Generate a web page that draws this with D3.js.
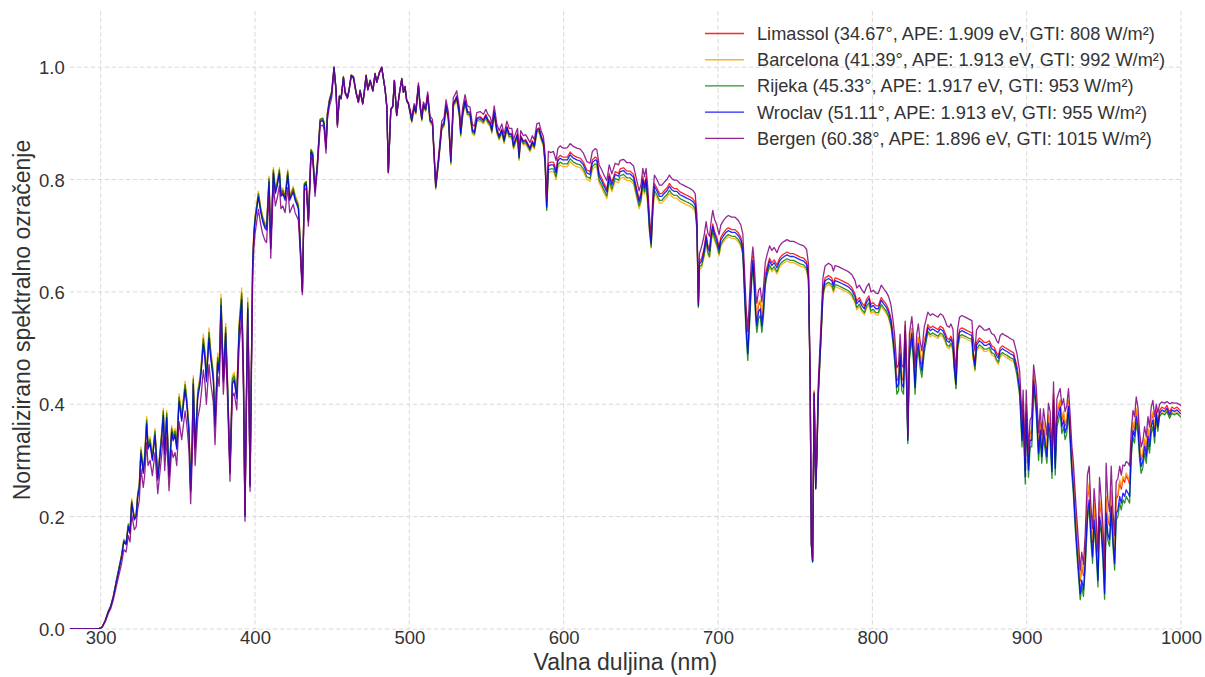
<!DOCTYPE html>
<html>
<head>
<meta charset="utf-8">
<script src="https://cdn.jsdelivr.net/npm/d3@7"></script>
<style>
  html, body { margin: 0; padding: 0; background: #fff; }
  svg { display: block; font-family: "Liberation Sans", Arial, Helvetica, sans-serif; }
</style>
</head>
<body>
<svg id="chart" width="1205" height="677"></svg>
<script>
// Wavelength grid (nm) shared by all five spectra
const wavelengthNm = [
  280, 290, 298, 300, 301,
  303, 305, 306.5, 308.2, 310.4, 311.4, 313.6, 315, 316.5, 317.9, 319, 320.1, 321.8, 323, 324, 325,
  326.1, 327.6, 328.5, 329.8, 330.7, 332, 333.5, 335.2, 337, 338.5, 339.6, 340.6, 341.5, 342.8, 344.3, 346, 347, 348.2, 349.3,
  350.8, 352.5, 354.7, 355.8, 357.2, 358.3, 359.3, 360, 361.2, 362.9, 364.4, 365.5, 366.5, 367.6, 368.5, 370.2, 371.2, 373, 374.1,
  375.8, 376.8, 378, 379.5, 381, 382.2, 383.8, 385.3, 386.5, 388.2, 389.7, 391.4, 392.5, 393.5, 394.4, 395.3, 396, 396.8, 397.6,
  398.5, 399.3, 400, 402.2, 403.7, 405, 406.5, 407.5, 409.1, 410.2, 411.9, 413.2, 414.5, 415.8, 416.8, 418, 419.5, 421.2, 422.5, 424.8, 426, 428.1, 429, 430.7,
  432, 433.2, 434.6, 436.3, 437.4, 438.9, 440.4, 442.2, 443.9, 444.8, 446, 446.9, 448.2, 449.7,
  451.2, 452.5, 453.4, 454.7, 455.8, 457.3, 458.4, 459.9, 461, 462.3, 463.8, 465.5, 467, 468.1, 469.8, 470.7, 472, 473.1, 474.6,
  476.4, 477.8, 478.9, 480.6, 482.1, 484.3, 485.4, 486.4, 488, 489.3, 490.3, 491.8, 493.4, 495.1, 496.2, 497.2, 498.3, 499.4,
  500.5, 501.6, 503.1, 504.2, 505.9, 507, 508.1, 509.1, 510.6, 511.9, 513.4, 515, 517.1, 518.8, 521, 522.5, 523.8, 525.3,
  526.9, 528.5, 529.6, 530.7, 532.4, 533.3, 534.6, 536.1, 537.6, 539.3, 540.9, 542.2, 543.7, 545.9, 548, 549.6, 550.9, 552.4,
  553.5, 555, 556.7, 558.2, 559.9, 561.4, 563.2, 564.7, 566.4, 567.5, 568.6, 570.1, 571.1, 572.2, 573.9, 575.4, 577.2, 578.2, 579.7,
  581, 582.6, 584.1, 585.4, 586.9, 588, 589,
  590.1, 591.6, 593.4, 595.1, 596.2, 597.7, 599.4, 600.9, 602.4, 604.2, 606.3, 608.5, 610.7, 612.8, 615, 617.1,
  618.6, 620.4, 621.5, 623, 624.7, 625.8, 628, 629.5, 631.2, 633.4, 635.5, 636.6, 638.8, 641, 643.1, 645.3,
  647.4, 648.9, 650.2, 651.3, 652.4, 653.4, 654.5, 655.6, 656.7, 657.8, 658.8, 660.4, 662.1, 663.6, 665.4, 666.9,
  668.5, 670, 671.5, 673.3, 675.4, 677.6, 679.7, 682, 683.6, 685.2, 686.3, 686.9, 687.3, 688,
  689.5, 691, 692.3, 693.4, 694.5, 695.6, 696.6, 697.7, 699.2, 700.7, 701.8, 703.5, 705.2, 706.7, 708.9, 711, 713.2, 714.8, 716.1,
  717.1, 718.2, 719.3, 720.4, 721.5, 722.6, 723.4, 724.5, 725.2, 726.3, 727.4, 728.4, 729.5, 730.6, 731.7,
  733.4, 734.9, 736.4, 738.2, 739.9, 741.4, 742.9, 744.7, 746.8, 749, 751.1, 753.3, 755.5, 757.4, 758.6,
  759.7, 760.5, 761.3, 762.3, 763.3, 764, 765, 766.7, 768, 769.4, 771.6, 773.7, 774.8, 775.9, 778,
  780.2, 782.4, 784.5, 786.7, 788.8, 789.9, 791.6, 793.1, 794.8, 796.3, 797.8, 799.1, 800.6, 802.3, 803.8, 805.8, 807.3, 809, 810.5, 812,
  813.3, 814.4, 815.9, 817, 818, 819.1, 820.2, 821.3, 822.3, 823, 824, 825.6, 826.6, 827.7, 828.8, 829.8, 830.9, 832.1, 833.6, 834.9,
  836, 837.5, 839, 840.8, 842.5, 844, 845.7, 847.2, 848.3, 849.8, 850.9, 852.2, 853, 854.2, 855.2, 856.5, 858, 860.2, 862.3, 864.5,
  865.2, 866.5, 867.5, 869.3, 870.8, 872.5, 874, 875.8, 877.3, 879.1, 880.6, 881.7, 882.8, 884.3, 885.8, 887.3, 889.3, 891.5,
  893.7, 895.5, 897, 897.7, 899.1, 899.7, 901.2, 902.2, 903.3, 904.5, 906.2, 907.7, 908.8, 909.8, 910.9, 912,
  913.1, 914.1, 915.2, 916.4, 917.4, 918.5, 919.6, 920.7, 921.7, 922.8, 923.9, 924.9, 926, 927.1, 928.2, 929.3,
  930.3, 931.4, 932.5, 933.6, 934.7, 935.7, 936.8, 937.9, 939.4, 940.5, 941.6, 942.7, 943.7, 944.8, 946.2, 947.2, 948.3,
  949.4, 950.5, 951.5, 952.6, 953.7, 954.8, 955.9, 957, 958, 959.1, 960.3, 961.3, 962.4, 963.5, 964.5, 965.6, 966.7,
  967.8, 968.9, 969.9, 971, 972.1, 973.2, 974.2, 975.3, 976.4, 977.5, 978.6, 979.6, 980.7, 981.8, 982.9,
  984, 985, 986.1, 987.6, 989.4, 990.9, 992.6, 994.1, 995.6, 997.4, 999.5, 1000
];

// Normalised spectral irradiance per site
const limassol = [
  0, 0, 0, .002, .004,
  .015, .031, .040, .058, .088, .101, .130, .157, .152, .184, .172, .226, .196, .202, .237, .253,
  .316, .280, .303, .369, .323, .333, .303, .348, .268, .313, .346, .384, .313, .380, .273, .354, .338, .348, .323,
  .409, .374, .430, .404, .354, .247, .333, .440, .323, .416, .440, .475, .512, .485, .444, .523, .490, .447, .364,
  .479, .460, .582, .444, .531, .434, .280, .440, .446, .414, .533, .592, .455, .202, .404, .576, .455, .256, .455,
  .653, .703, .728, .772, .745, .728, .716, .713, .799, .680, .814, .778, .793, .814, .773, .778, .766, .811, .766, .781, .766, .751, .703, .601,
  .791, .794, .727, .851, .845, .780, .828, .905, .907, .899, .857, .916, .940, .955,
  1, .960, .897, .948, .945, .982, .955, .946, .960, .985, .982, .955, .938, .958, .935, .953, .985, .960, .976,
  .958, .988, .973, .990, 1, .960, .930, .814, .925, .930, .976, .914, .950, .979, .955, .965, .940, .935,
  .921, .906, .931, .921, .968, .931, .909, .934, .926, .951, .907, .901, .788, .831, .896, .902, .934, .912,
  .834, .937, .942, .949, .920, .884, .920, .942, .922, .920, .889, .886, .910, .912, .907, .916, .907, .902,
  .890, .922, .890, .878, .890, .872, .895, .882, .882, .862, .871, .882, .842, .878, .869, .871, .862, .857, .869,
  .862, .890, .892, .878, .867, .832, .755,
  .829, .831, .831, .817, .838, .843, .840, .840, .840, .849, .843, .840, .838, .831, .817, .814,
  .835, .840, .838, .811, .802, .795, .783, .811, .795, .814, .811, .819, .821, .815, .815, .809,
  .783, .765, .777, .805, .790, .805, .771, .721, .690, .759, .793, .785, .775, .775, .781, .785,
  .793, .787, .784, .784, .778, .775, .772, .769, .766, .760, .724, .640, .580, .654,
  .660, .678, .703, .683, .677, .705, .721, .708, .697, .680, .697, .705, .711, .714, .711, .711, .705, .697, .681,
  .620, .550, .502, .562, .625, .664, .630, .572, .553, .577, .582, .553, .582, .630, .643,
  .660, .652, .657, .648, .660, .665, .668, .671, .668, .668, .665, .662, .660, .654, .632,
  .446, .152, .121, .423, .252, .303, .424, .524, .605, .625, .629, .625, .615, .625, .623,
  .620, .617, .614, .608, .596, .584, .590, .581, .575, .587, .593, .578, .581, .575, .575, .590, .584, .578, .569, .554,
  .530, .502, .442, .448, .502, .448, .442, .540, .442, .340, .502, .535, .502, .442, .502, .518, .490, .472, .512, .527,
  .542, .536, .539, .536, .533, .539, .536, .527, .518, .515, .521, .512, .477, .441, .510, .533, .536, .533, .530, .527,
  .498, .474, .510, .518, .515, .510, .510, .513, .504, .501, .491, .487, .500, .504, .501, .499, .495, .492,
  .468, .435, .348, .402, .283, .398, .295, .348, .350, .452, .408, .325, .366, .320, .366, .342,
  .320, .378, .361, .292, .418, .298, .384, .396, .406, .372, .384, .361, .372, .406, .355, .300,
  .272, .218, .172, .130, .085, .112, .095, .142, .231, .255, .195, .154, .219, .184, .112, .225, .207,
  .160, .088, .231, .195, .184, .243, .184, .142, .231, .237, .261, .249, .267, .261, .273, .267, .258,
  .331, .366, .355, .390, .372, .325, .301, .312, .337, .319, .355, .337, .372, .384, .355,
  .389, .366, .389, .395, .392, .398, .386, .395, .392, .395, .389, .388
];

const barcelona = [
  0, 0, 0, .002, .004,
  .016, .032, .041, .059, .090, .104, .134, .160, .155, .188, .176, .232, .201, .207, .243, .259,
  .324, .287, .311, .378, .331, .342, .311, .357, .274, .321, .355, .393, .321, .389, .279, .362, .347, .357, .331,
  .419, .383, .441, .414, .362, .254, .342, .451, .331, .426, .451, .486, .525, .497, .455, .536, .502, .459, .373,
  .491, .471, .596, .455, .544, .445, .287, .451, .457, .424, .546, .607, .466, .207, .414, .590, .466, .262, .466,
  .660, .710, .735, .779, .752, .735, .723, .720, .806, .687, .821, .785, .800, .821, .780, .785, .773, .818, .773, .788, .773, .758, .708, .603,
  .794, .797, .730, .854, .848, .783, .831, .908, .910, .902, .860, .919, .943, .958,
  1, .962, .899, .950, .947, .984, .957, .948, .962, .987, .984, .957, .940, .960, .937, .955, .987, .962, .978,
  .960, .990, .975, .991, .998, .961, .931, .812, .925, .930, .976, .914, .950, .979, .955, .964, .939, .934,
  .916, .901, .926, .916, .963, .926, .904, .929, .921, .946, .901, .895, .782, .825, .888, .894, .926, .904,
  .826, .929, .934, .941, .912, .876, .912, .934, .914, .912, .881, .878, .902, .904, .899, .908, .899, .894,
  .882, .914, .882, .870, .882, .864, .887, .874, .874, .854, .863, .874, .834, .870, .861, .863, .854, .849, .861,
  .854, .882, .884, .870, .859, .824, .748,
  .812, .814, .814, .800, .821, .826, .823, .823, .823, .832, .826, .823, .821, .814, .800, .797,
  .818, .823, .821, .794, .785, .778, .766, .794, .778, .797, .794, .802, .804, .798, .798, .792,
  .766, .748, .760, .788, .773, .788, .754, .706, .678, .742, .776, .768, .758, .758, .764, .768,
  .776, .770, .767, .767, .761, .758, .755, .752, .749, .743, .710, .630, .572, .640,
  .644, .662, .687, .667, .661, .689, .705, .692, .681, .664, .681, .689, .695, .698, .695, .695, .689, .681, .666,
  .622, .555, .508, .566, .628, .660, .633, .576, .558, .581, .586, .558, .585, .630, .630,
  .644, .636, .641, .632, .644, .649, .652, .655, .652, .652, .649, .646, .644, .638, .618,
  .440, .150, .120, .425, .250, .300, .415, .512, .590, .609, .613, .609, .599, .609, .607,
  .604, .601, .598, .592, .580, .568, .574, .565, .559, .571, .577, .562, .565, .559, .559, .574, .568, .562, .553, .538,
  .528, .505, .446, .452, .505, .452, .446, .540, .446, .338, .505, .535, .505, .446, .505, .520, .493, .476, .513, .518,
  .526, .520, .523, .520, .517, .523, .520, .511, .502, .499, .505, .496, .463, .428, .494, .517, .520, .517, .514, .511,
  .483, .459, .494, .502, .499, .494, .494, .497, .488, .485, .475, .471, .484, .488, .485, .483, .479, .476,
  .462, .436, .352, .405, .288, .401, .300, .352, .355, .453, .411, .330, .370, .325, .370, .347,
  .325, .382, .365, .298, .420, .304, .388, .400, .408, .376, .388, .365, .376, .408, .360, .305,
  .278, .224, .177, .135, .090, .117, .100, .147, .236, .260, .200, .159, .224, .189, .117, .230, .212,
  .165, .093, .236, .200, .189, .248, .189, .147, .236, .242, .266, .254, .272, .266, .278, .272, .262,
  .334, .369, .358, .393, .375, .328, .304, .315, .340, .322, .358, .340, .375, .387, .358,
  .379, .358, .380, .386, .383, .389, .377, .386, .383, .386, .380, .379
];

const rijeka = [
  0, 0, 0, .002, .004,
  .015, .032, .041, .058, .089, .102, .132, .158, .153, .186, .173, .228, .198, .204, .240, .255,
  .319, .283, .306, .372, .326, .337, .306, .352, .270, .316, .350, .388, .316, .384, .275, .357, .342, .352, .326,
  .413, .377, .435, .408, .357, .250, .337, .445, .326, .420, .445, .479, .517, .490, .449, .528, .495, .452, .367,
  .483, .464, .588, .449, .537, .439, .283, .445, .451, .418, .539, .598, .459, .204, .408, .581, .459, .258, .459,
  .656, .706, .731, .775, .748, .731, .719, .716, .802, .683, .817, .781, .796, .817, .776, .781, .769, .814, .769, .784, .769, .754, .705, .602,
  .793, .796, .729, .853, .847, .782, .830, .907, .909, .901, .859, .918, .942, .957,
  1, .961, .898, .949, .946, .983, .956, .947, .961, .986, .983, .956, .939, .959, .936, .954, .986, .961, .977,
  .959, .989, .974, .990, .999, .960, .930, .813, .925, .930, .976, .914, .950, .979, .955, .965, .940, .935,
  .918, .903, .928, .918, .965, .928, .906, .931, .923, .948, .904, .898, .785, .828, .891, .897, .929, .907,
  .829, .932, .937, .944, .915, .879, .915, .937, .917, .915, .884, .881, .905, .907, .902, .911, .902, .897,
  .885, .917, .885, .873, .885, .867, .890, .877, .877, .857, .866, .877, .837, .873, .864, .866, .857, .852, .864,
  .857, .885, .887, .873, .862, .827, .745,
  .817, .819, .819, .805, .826, .831, .828, .828, .828, .837, .831, .828, .826, .819, .805, .802,
  .823, .828, .826, .799, .790, .783, .771, .799, .783, .802, .799, .807, .809, .803, .803, .797,
  .771, .753, .765, .793, .778, .793, .759, .710, .680, .747, .781, .773, .763, .763, .769, .773,
  .781, .775, .772, .772, .766, .763, .760, .757, .754, .748, .714, .632, .573, .645,
  .648, .666, .691, .671, .663, .693, .709, .696, .685, .668, .685, .693, .699, .702, .699, .699, .693, .685, .667,
  .598, .526, .478, .538, .604, .648, .609, .548, .528, .553, .558, .528, .558, .610, .628,
  .648, .640, .645, .636, .648, .653, .656, .659, .656, .656, .653, .650, .648, .642, .622,
  .440, .149, .119, .418, .249, .298, .416, .515, .594, .613, .617, .613, .603, .613, .611,
  .608, .605, .602, .596, .584, .572, .578, .569, .563, .575, .581, .566, .569, .563, .563, .578, .572, .566, .557, .542,
  .510, .478, .418, .424, .478, .424, .418, .520, .418, .330, .478, .516, .478, .418, .478, .497, .466, .448, .491, .512,
  .530, .524, .527, .524, .521, .527, .524, .515, .506, .503, .509, .500, .465, .428, .498, .521, .524, .521, .518, .515,
  .486, .462, .498, .506, .503, .498, .498, .501, .492, .489, .479, .475, .488, .492, .489, .487, .483, .480,
  .452, .414, .324, .378, .258, .374, .270, .324, .324, .432, .384, .300, .342, .295, .342, .318,
  .295, .354, .337, .268, .397, .274, .360, .372, .385, .348, .360, .337, .348, .385, .331, .274,
  .238, .182, .135, .093, .052, .075, .058, .105, .194, .218, .158, .117, .182, .147, .075, .188, .170,
  .123, .053, .194, .158, .147, .206, .147, .105, .194, .200, .224, .212, .230, .224, .236, .230, .224,
  .307, .342, .331, .366, .348, .301, .277, .288, .313, .295, .331, .313, .348, .360, .331,
  .378, .352, .378, .384, .381, .387, .375, .384, .381, .384, .378, .377
];

const wroclav = [
  0, 0, 0, .002, .004,
  .015, .031, .040, .057, .087, .100, .129, .155, .150, .182, .170, .224, .194, .200, .235, .250,
  .313, .277, .300, .365, .320, .330, .300, .345, .265, .310, .343, .380, .310, .376, .270, .350, .335, .345, .320,
  .405, .370, .426, .400, .350, .245, .330, .436, .320, .412, .436, .470, .507, .480, .440, .518, .485, .443, .360,
  .474, .455, .576, .440, .526, .430, .277, .436, .442, .410, .528, .586, .450, .200, .400, .570, .450, .253, .450,
  .650, .700, .725, .769, .742, .725, .713, .710, .796, .677, .811, .775, .790, .811, .770, .775, .763, .808, .763, .778, .763, .748, .700, .600,
  .789, .792, .725, .849, .843, .778, .826, .903, .905, .897, .855, .914, .938, .953,
  1, .960, .897, .948, .945, .982, .955, .946, .960, .985, .982, .955, .938, .958, .935, .953, .985, .960, .976,
  .958, .988, .973, .990, 1, .960, .930, .814, .925, .930, .976, .914, .950, .979, .955, .965, .940, .935,
  .920, .905, .930, .920, .967, .930, .908, .933, .925, .950, .906, .900, .787, .830, .894, .900, .932, .910,
  .832, .935, .940, .947, .918, .882, .918, .940, .920, .918, .887, .884, .908, .910, .905, .914, .905, .900,
  .888, .920, .888, .876, .888, .870, .893, .880, .880, .860, .869, .880, .840, .876, .867, .869, .860, .855, .867,
  .860, .888, .890, .876, .865, .830, .751,
  .824, .826, .826, .812, .833, .838, .835, .835, .835, .844, .838, .835, .833, .826, .812, .809,
  .830, .835, .833, .806, .797, .790, .778, .806, .790, .809, .806, .814, .816, .810, .810, .804,
  .778, .760, .772, .800, .785, .800, .766, .716, .686, .754, .788, .780, .770, .770, .776, .780,
  .788, .782, .779, .779, .773, .770, .767, .764, .761, .755, .720, .637, .576, .650,
  .655, .673, .698, .678, .672, .700, .716, .703, .692, .675, .692, .700, .706, .709, .706, .706, .700, .692, .675,
  .609, .538, .490, .550, .615, .656, .620, .560, .540, .565, .570, .540, .570, .620, .636,
  .655, .647, .652, .643, .655, .660, .663, .666, .663, .663, .660, .657, .655, .649, .628,
  .443, .150, .120, .420, .250, .300, .420, .520, .600, .620, .624, .620, .610, .620, .618,
  .615, .612, .609, .603, .591, .579, .585, .576, .570, .582, .588, .573, .576, .570, .570, .585, .579, .573, .564, .549,
  .520, .490, .430, .436, .490, .436, .430, .530, .430, .336, .490, .526, .490, .430, .490, .508, .478, .460, .502, .520,
  .537, .531, .534, .531, .528, .534, .531, .522, .513, .510, .516, .507, .472, .436, .505, .528, .531, .528, .525, .522,
  .493, .469, .505, .513, .510, .505, .505, .508, .499, .496, .486, .482, .495, .499, .496, .494, .490, .487,
  .461, .425, .336, .390, .271, .386, .283, .336, .336, .443, .396, .313, .354, .307, .354, .330,
  .307, .366, .349, .280, .408, .286, .372, .384, .396, .360, .372, .349, .360, .396, .343, .286,
  .250, .194, .147, .105, .063, .087, .070, .117, .206, .230, .170, .129, .194, .159, .087, .200, .182,
  .135, .063, .206, .170, .159, .218, .159, .117, .206, .212, .236, .224, .242, .236, .248, .242, .236,
  .319, .354, .343, .378, .360, .313, .289, .300, .325, .307, .343, .325, .360, .372, .343,
  .384, .360, .384, .390, .387, .393, .381, .390, .387, .390, .384, .383
];

const bergen = [
  0, 0, 0, .002, .003,
  .013, .028, .036, .052, .079, .091, .117, .141, .137, .166, .155, .204, .177, .182, .214, .228,
  .285, .252, .273, .332, .291, .300, .273, .314, .241, .282, .312, .346, .282, .342, .246, .319, .305, .314, .291,
  .369, .337, .388, .364, .319, .223, .300, .397, .291, .375, .397, .428, .461, .437, .400, .471, .441, .403, .328,
  .450, .432, .547, .418, .500, .409, .263, .414, .420, .390, .502, .557, .428, .192, .380, .542, .428, .245, .430,
  .628, .678, .703, .747, .720, .703, .691, .688, .774, .660, .789, .753, .768, .789, .748, .753, .741, .786, .741, .756, .741, .728, .685, .595,
  .781, .784, .717, .841, .835, .770, .818, .895, .897, .889, .847, .906, .930, .946,
  .996, .957, .893, .946, .943, .980, .953, .944, .958, .983, .980, .953, .937, .957, .934, .952, .984, .959, .975,
  .957, .988, .973, .991, 1, .961, .931, .812, .926, .931, .977, .915, .951, .980, .956, .966, .942, .937,
  .925, .910, .935, .925, .972, .935, .913, .938, .930, .956, .913, .907, .792, .838, .904, .910, .942, .920,
  .840, .946, .951, .958, .929, .893, .929, .951, .931, .929, .898, .895, .919, .921, .916, .925, .916, .911,
  .899, .931, .899, .887, .899, .881, .904, .891, .891, .871, .880, .891, .851, .887, .878, .880, .871, .866, .878,
  .871, .899, .901, .887, .876, .843, .765,
  .850, .848, .850, .834, .855, .860, .856, .856, .857, .864, .859, .856, .854, .847, .832, .829,
  .850, .855, .853, .826, .817, .810, .798, .826, .810, .829, .826, .834, .836, .830, .830, .824,
  .798, .780, .792, .820, .805, .820, .786, .734, .700, .774, .808, .800, .790, .790, .796, .800,
  .808, .802, .799, .799, .793, .790, .787, .784, .781, .775, .738, .648, .582, .668,
  .682, .700, .725, .705, .699, .727, .745, .730, .719, .702, .719, .727, .733, .736, .733, .733, .727, .719, .703,
  .642, .575, .530, .590, .650, .680, .655, .598, .580, .603, .607, .582, .608, .652, .665,
  .682, .674, .679, .670, .682, .687, .690, .693, .690, .690, .687, .684, .682, .676, .650,
  .455, .155, .125, .420, .262, .315, .440, .542, .625, .646, .651, .647, .637, .647, .645,
  .642, .639, .636, .631, .620, .607, .612, .604, .598, .609, .615, .600, .603, .598, .597, .612, .606, .600, .592, .578,
  .552, .525, .465, .470, .525, .470, .465, .548, .465, .345, .525, .556, .525, .465, .525, .543, .513, .495, .537, .552,
  .564, .558, .561, .558, .555, .561, .558, .549, .540, .537, .543, .534, .497, .460, .532, .555, .558, .555, .552, .549,
  .520, .495, .532, .540, .537, .532, .532, .535, .526, .523, .513, .509, .522, .526, .523, .521, .517, .514,
  .490, .458, .372, .425, .305, .425, .318, .372, .378, .470, .432, .350, .392, .345, .392, .368,
  .345, .402, .387, .318, .440, .325, .410, .420, .428, .398, .410, .387, .398, .428, .380, .325,
  .295, .244, .197, .155, .105, .137, .115, .167, .275, .290, .220, .179, .250, .209, .137, .270, .232,
  .185, .108, .295, .230, .209, .290, .209, .167, .262, .268, .290, .274, .292, .290, .298, .296, .290,
  .354, .389, .378, .413, .395, .350, .324, .335, .360, .342, .378, .360, .395, .407, .378,
  .400, .385, .400, .404, .402, .405, .401, .403, .402, .402, .399, .397
];

// Site metadata shown in the legend
const siteNames = ["Limassol", "Barcelona", "Rijeka", "Wroclav", "Bergen"];
const latitudeDeg = ["34.67", "41.39", "45.33", "51.11", "60.38"];
const apeEv = ["1.909", "1.913", "1.917", "1.913", "1.896"];
const gtiWm2 = ["808", "992", "953", "955", "1015"];
const siteColors = ["#ff0000", "#ffa500", "#008000", "#0000ff", "#800080"];
const siteValues = [limassol, barcelona, rijeka, wroclav, bergen];

// Axis ticks
const xTicks = [300, 400, 500, 600, 700, 800, 900, 1000];
const yTicks = [0.0, 0.2, 0.4, 0.6, 0.8, 1.0];

const xLabel = "Valna duljina (nm)";
const yLabel = "Normalizirano spektralno ozračenje";

// Layout
const W = 1205, H = 677;
const plot = { left: 69.8, right: 1181, top: 11, bottom: 629 };

const svg = d3.select("#chart");
svg.append("rect").attr("width", W).attr("height", H).attr("fill", "#ffffff");

const x = d3.scaleLinear().domain([280, 1000]).range([plot.left, plot.right]);
const y = d3.scaleLinear().domain([0, 1.1]).range([plot.bottom, plot.top]);

// Dashed grid
const grid = svg.append("g").attr("class", "grid");
grid.selectAll("line.vx").data(xTicks).join("line")
  .attr("x1", d => x(d)).attr("x2", d => x(d))
  .attr("y1", plot.top).attr("y2", plot.bottom)
  .attr("stroke", "#d9d9d9").attr("stroke-width", 1).attr("stroke-dasharray", "4.5,2.5");
grid.selectAll("line.hy").data(yTicks).join("line")
  .attr("x1", plot.left).attr("x2", plot.right)
  .attr("y1", d => y(d)).attr("y2", d => y(d))
  .attr("stroke", "#d9d9d9").attr("stroke-width", 1).attr("stroke-dasharray", "4.5,2.5");

// Axes (labels only, no domain line / tick marks)
const xAxis = d3.axisBottom(x).tickValues(xTicks).tickSize(0).tickPadding(0).tickFormat(d3.format("d"));
const yAxis = d3.axisLeft(y).tickValues(yTicks).tickSize(0).tickPadding(0).tickFormat(d3.format(".1f"));

const gx = svg.append("g").attr("transform", `translate(0,${plot.bottom})`).call(xAxis);
gx.select(".domain").remove();
gx.selectAll("text")
  .attr("y", 15).attr("dy", 0)
  .attr("font-size", 18.5).attr("fill", "#333333")
  .attr("font-family", "Liberation Sans, Arial, sans-serif");

const gy = svg.append("g").attr("transform", `translate(${plot.left},0)`).call(yAxis);
gy.select(".domain").remove();
gy.selectAll("text")
  .attr("x", -5).attr("dy", "0.35em")
  .attr("font-size", 18.5).attr("fill", "#333333")
  .attr("font-family", "Liberation Sans, Arial, sans-serif");

// Axis titles
svg.append("text")
  .attr("x", (plot.left + plot.right) / 2).attr("y", 670)
  .attr("text-anchor", "middle").attr("font-size", 23).attr("fill", "#333333")
  .text(xLabel);
svg.append("text")
  .attr("transform", `translate(30,${(plot.top + plot.bottom) / 2}) rotate(-90)`)
  .attr("text-anchor", "middle").attr("font-size", 23).attr("fill", "#333333")
  .text(yLabel);

// Spectra
svg.append("clipPath").attr("id", "plot-clip")
  .append("rect").attr("x", plot.left).attr("y", plot.top)
  .attr("width", plot.right - plot.left).attr("height", plot.bottom - plot.top);

const line = d3.line()
  .x(d => x(d[0]))
  .y(d => y(d[1]));

const lines = svg.append("g").attr("clip-path", "url(#plot-clip)");
siteValues.forEach((vals, i) => {
  const pts = wavelengthNm.map((w, j) => [w, vals[j]]);
  lines.append("path")
    .datum(pts)
    .attr("fill", "none")
    .attr("stroke", siteColors[i])
    .attr("stroke-opacity", 0.85)
    .attr("stroke-width", 1.3)
    .attr("stroke-linejoin", "round")
    .attr("d", line);
});

// Legend
const legend = svg.append("g").attr("class", "legend");
const legendRowY = d3.scaleLinear().domain([0, 4]).range([33.5, 138.4]);
siteNames.forEach((name, i) => {
  const yy = legendRowY(i);
  legend.append("line")
    .attr("x1", 705).attr("x2", 744)
    .attr("y1", yy).attr("y2", yy)
    .attr("stroke", siteColors[i]).attr("stroke-opacity", 0.85).attr("stroke-width", 1.3);
  legend.append("text")
    .attr("x", 757).attr("y", yy).attr("dy", "0.35em")
    .attr("font-size", 18.2).attr("fill", "#333333")
    .text(`${name} (${latitudeDeg[i]}°, APE: ${apeEv[i]} eV, GTI: ${gtiWm2[i]} W/m²)`);
});
</script>
</body>
</html>
